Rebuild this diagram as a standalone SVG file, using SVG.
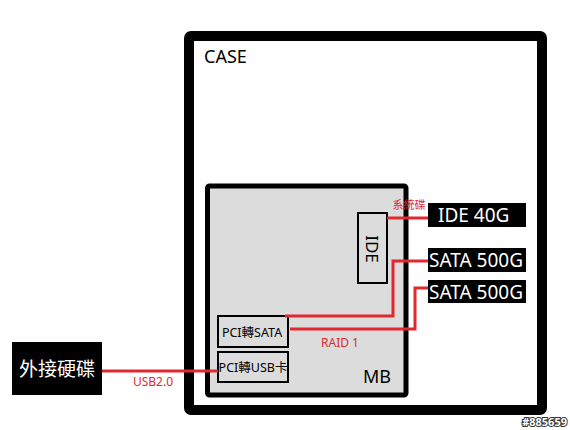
<svg xmlns="http://www.w3.org/2000/svg" width="570" height="430" viewBox="0 0 570 430">
<style>
text{font-family:"Noto Sans","Noto Sans CJK TC",sans-serif}
.lbl{font-size:18px;fill:#000}
.w{fill:#fff;font-size:19px}
.red{fill:#e0282e;font-size:12px}
.small{font-size:12.5px;fill:#000}
.blk{fill:#000}
.box{fill:#dcdcdc;stroke:#000;stroke-width:2}
.wire{fill:none;stroke:#e0282e;stroke-width:3}
</style>
<rect width="570" height="430" fill="#fff"/>
<g id="case">
<rect x="189" y="36" width="353" height="374" rx="2" fill="#fff" stroke="#000" stroke-width="10"/>
<text class="lbl" x="204" y="63">CASE</text>
</g>
<g id="mb">
<rect x="207.5" y="186" width="198.5" height="209" rx="2" fill="#dcdcdc" stroke="#000" stroke-width="5"/>
<text class="lbl" x="363" y="383">MB</text>
</g>
<g id="ide">
<rect class="box" x="358" y="213" width="29" height="70"/>
<text class="lbl" x="0" y="0" transform="translate(366,249) rotate(90)" text-anchor="middle" style="font-size:17px">IDE</text>
</g>
<g id="pci-sata">
<rect class="box" x="218" y="316" width="70" height="31"/>
<text class="small" x="252" y="337" text-anchor="middle">PCI轉SATA</text>
</g>
<g id="pci-usb">
<rect class="box" x="218" y="352" width="70" height="30"/>
<text class="small" x="253" y="372" text-anchor="middle">PCI轉USB卡</text>
</g>
<g id="ide40g">
<rect class="blk" x="428" y="203" width="98" height="24"/>
<text class="w" x="438" y="222">IDE 40G</text>
</g>
<g id="sata1">
<rect class="blk" x="428" y="248" width="98" height="24"/>
<text class="w" x="429" y="267">SATA 500G</text>
</g>
<g id="sata2">
<rect class="blk" x="428" y="280" width="98" height="23"/>
<text class="w" x="429" y="299">SATA 500G</text>
</g>
<g id="ext">
<rect class="blk" x="12" y="342" width="90" height="53"/>
<text class="w" x="57" y="376" text-anchor="middle">外接硬碟</text>
</g>
<g id="connectors">
<path class="wire" d="M387 218 H428"/>
<path class="wire" d="M285 316 H393 V261 H428"/>
<path class="wire" d="M290 329 H415 V288 H428"/>
<path class="wire" d="M102 371 H218"/>
<text class="red" x="409" y="209" text-anchor="middle" style="font-size:11px">系統碟</text>
<text class="red" x="340" y="347" text-anchor="middle">RAID 1</text>
<text class="red" x="153" y="386" text-anchor="middle">USB2.0</text>
</g>
<text x="567" y="426" text-anchor="end" style="font-size:11px;fill:#fff;stroke:#333;stroke-width:2;paint-order:stroke;font-weight:bold">#885659</text>
</svg>
